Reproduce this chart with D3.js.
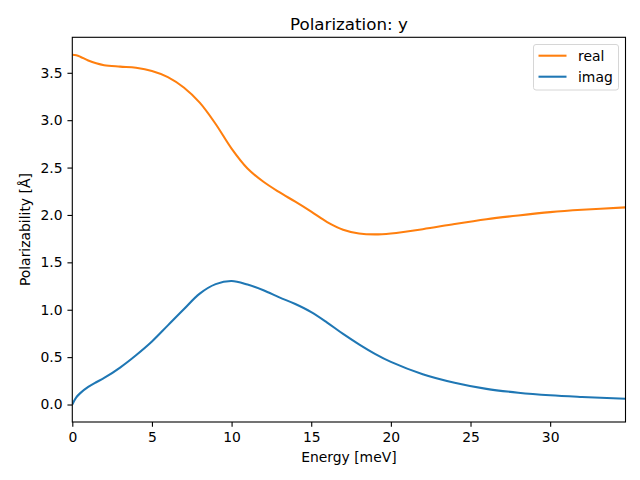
<!DOCTYPE html>
<html><head><meta charset="utf-8">
<script src="https://cdn.jsdelivr.net/npm/d3@7"></script>
<style>body{margin:0;background:#fff}svg{display:block}text{font-family:"DejaVu Sans",sans-serif;fill:#000}</style>
</head><body>
<script>
const energy = [0,0.25,0.5,1,1.5,2,3,4,5,6,7,8,9,10,11,12,13,14,15,16,17,18,19,20,22,24,26,28,30,32,34.73];
const realVals = [3.69,3.685,3.67,3.63,3.60,3.58,3.565,3.553,3.52,3.455,3.345,3.185,2.96,2.70,2.49,2.35,2.24,2.14,2.035,1.925,1.845,1.805,1.795,1.805,1.85,1.905,1.955,1.995,2.03,2.055,2.08];
const imagVals = [0.0,0.075,0.12,0.185,0.235,0.28,0.39,0.52,0.665,0.835,1.005,1.17,1.27,1.303,1.265,1.205,1.13,1.06,0.975,0.865,0.745,0.635,0.535,0.45,0.32,0.23,0.165,0.125,0.098,0.08,0.06];
const xTicks = [0,5,10,15,20,25,30];
const yTicks = [0.0,0.5,1.0,1.5,2.0,2.5,3.0,3.5];
const seriesNames = ["real","imag"];
const seriesColors = ["#ff7f0e","#1f77b4"];

const W=640,H=480, L=72.3, R=625.5, T=37.3, B=422;
const svg=d3.select("body").append("svg").attr("width",W).attr("height",H);
const x=d3.scaleLinear().domain([0,34.73]).range([L,R]);
const y=d3.scaleLinear().domain([-0.1845,3.8745]).range([B,T]);

const line=d3.line().x(d=>x(d[0])).y(d=>y(d[1])).curve(d3.curveCatmullRom.alpha(0.5));
const series=[realVals,imagVals];
const g=svg.append("g");
g.append("defs").append("clipPath").attr("id","clip").append("rect").attr("x",L).attr("y",T).attr("width",R-L).attr("height",B-T);
series.forEach((vals,i)=>{
  g.append("path").datum(energy.map((e,j)=>[e,vals[j]]))
   .attr("d",line).attr("fill","none").attr("stroke",seriesColors[i])
   .attr("stroke-width",2.08).attr("clip-path","url(#clip)");
});

const xa=svg.append("g").attr("transform",`translate(0,${B})`)
  .call(d3.axisBottom(x).tickValues(xTicks).tickFormat(d3.format("d")).tickSize(4.86).tickPadding(4.86));
const ya=svg.append("g").attr("transform",`translate(${L},0)`)
  .call(d3.axisLeft(y).tickValues(yTicks).tickFormat(d3.format(".1f")).tickSize(4.86).tickPadding(4.86));
[xa,ya].forEach(a=>{a.select(".domain").remove();a.selectAll("line").attr("stroke","#000").attr("stroke-width",1.1);a.selectAll("text").attr("font-size","13.9px").attr("font-family","DejaVu Sans").attr("fill","#000");});
svg.append("rect").attr("x",L).attr("y",T).attr("width",R-L).attr("height",B-T).attr("fill","none").attr("stroke","#000").attr("stroke-width",1.1);

svg.append("text").attr("x",(L+R)/2).attr("y",30).attr("text-anchor","middle").attr("font-size","16.7px").text("Polarization: y");
svg.append("text").attr("x",(L+R)/2).attr("y",462).attr("text-anchor","middle").attr("font-size","13.9px").text("Energy [meV]");
svg.append("text").attr("transform",`translate(30,${(T+B)/2}) rotate(-90)`).attr("text-anchor","middle").attr("font-size","13.9px").text("Polarizability [Å]");

const lg=svg.append("g");
lg.append("rect").attr("x",533.5).attr("y",44.5).attr("width",85).attr("height",45.5).attr("rx",2.5).attr("fill","#fff").attr("fill-opacity",0.8).attr("stroke","#d6d6d6").attr("stroke-width",1);
seriesNames.forEach((n,i)=>{
  const yy=55.7+i*21;
  lg.append("line").attr("x1",538.5).attr("x2",566.5).attr("y1",yy).attr("y2",yy).attr("stroke",seriesColors[i]).attr("stroke-width",2.08);
  lg.append("text").attr("x",578).attr("y",yy+5).attr("font-size","13.9px").text(n);
});
</script>
</body></html>
